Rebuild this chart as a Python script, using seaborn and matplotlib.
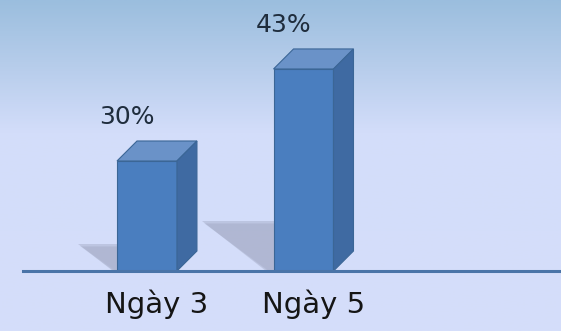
import numpy as np
import pandas as pd
import matplotlib
matplotlib.use('Agg')
import matplotlib.pyplot as plt
import seaborn as sns
from matplotlib.patches import Polygon
from matplotlib.colors import LinearSegmentedColormap
import matplotlib.transforms as mtrans

categories = ["Ngày 3", "Ngày 5"]
values = [30, 43]
value_labels = ["30%", "43%"]

sns.set_theme(style="white")
plt.rcParams['font.family'] = ['DejaVu Sans']

W, H = 561, 331
fig = plt.figure(figsize=(W / 100, H / 100), dpi=100)

# gradient background
bg = fig.add_axes([0, 0, 1, 1], zorder=0)
cmap = LinearSegmentedColormap.from_list(
    'bg', [(0, '#d5defa'), (0.6, '#d3ddfa'), (0.8, '#b7cdeb'), (1, '#9bbede')])
grad = np.linspace(0, 1, 256).reshape(-1, 1)
bg.imshow(grad, aspect='auto', cmap=cmap, origin='lower', extent=[0, 1, 0, 1])
bg.axis('off')

base_px = 271
ax = fig.add_axes([23 / W, (H - base_px) / H, 1 - 23 / W, base_px / H], zorder=1)
ax.patch.set_alpha(0)
df = pd.DataFrame({'day': categories, 'value': values})
sns.barplot(data=df, x='day', y='value', color='#4a7ebf', width=0.383,
            edgecolor='#3b6696', linewidth=0.8, saturation=1, ax=ax, zorder=3)
ax.set_xlim(-0.792, 2.645)
ax.set_ylim(14.46, 52.74)

ident = mtrans.IdentityTransform()
dx, dy = 20, 20
ybase = ax.transData.transform((0, ax.get_ylim()[0]))[1]
for p in list(ax.patches):
    x0 = p.get_x()
    x1 = x0 + p.get_width()
    top = p.get_y() + p.get_height()
    X0, Yt = ax.transData.transform((x0, top))
    X1, _ = ax.transData.transform((x1, top))
    Yb = ybase
    # top face
    ax.add_patch(Polygon([(X0, Yt), (X1, Yt), (X1 + dx, Yt + dy), (X0 + dx, Yt + dy)],
                         closed=True, transform=ident, facecolor='#6a92c8',
                         edgecolor='#3b6696', linewidth=0.8, zorder=4, clip_on=False))
    # side face
    ax.add_patch(Polygon([(X1, Yb), (X1, Yt), (X1 + dx, Yt + dy), (X1 + dx, Yb + dy)],
                         closed=True, transform=ident, facecolor='#3f6aa2',
                         edgecolor='#3b6696', linewidth=0.8, zorder=4, clip_on=False))
    # soft shadow (layered)
    s = 0.245 * (Yt - Yb)
    for k, a in [(3, 0.12), (1.5, 0.15), (0, 0.3)]:
        ax.add_patch(Polygon([(X0 - 1.45 * s + k * 1.2, Yb + s - k), (X0, Yb + s - k),
                              (X0, Yb), (X0 - 0.15 * s + k, Yb)],
                             closed=True, transform=ident, facecolor='#8a90aa', alpha=a,
                             edgecolor='none', zorder=2, clip_on=False))

for i, (v, lab) in enumerate(zip(values, value_labels)):
    ax.annotate(lab, xy=(i, v), xytext=(-20 * 0.72, 44 * 0.72), textcoords='offset points',
                ha='center', va='center', fontsize=18, color='#1f2d3d', zorder=5)

ax.set_xlabel('')
ax.set_ylabel('')
ax.set_yticks([])
ax.set_xticks(range(len(categories)))
ax.set_xticklabels(categories)
ax.tick_params(axis='x', length=0, pad=13, labelsize=21, labelcolor='#151515')
for lbl in ax.get_xticklabels():
    lbl.set_transform(lbl.get_transform() + mtrans.ScaledTranslation(10 / 100, 0, fig.dpi_scale_trans))
for side in ['top', 'right', 'left']:
    ax.spines[side].set_visible(False)
ax.spines['bottom'].set_color('#4a74a8')
ax.spines['bottom'].set_linewidth(2.2)
ax.spines['bottom'].set_zorder(6)

fig.savefig('out.png', dpi=100)
